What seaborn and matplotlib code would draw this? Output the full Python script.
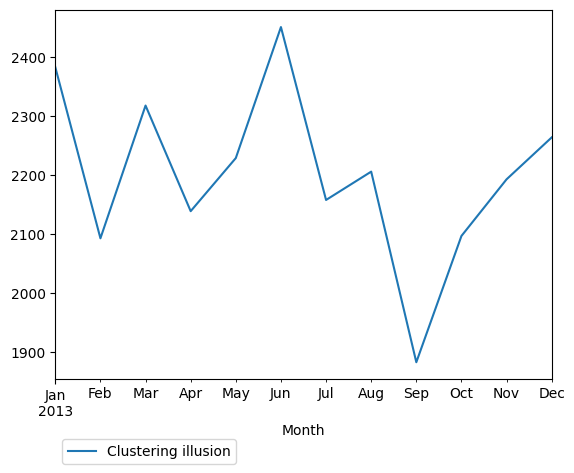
import matplotlib
matplotlib.use("Agg")
import matplotlib.pyplot as plt
import seaborn as sns
import pandas as pd
from matplotlib.ticker import FixedLocator, FixedFormatter

months = ["Jan", "Feb", "Mar", "Apr", "May", "Jun", "Jul", "Aug", "Sep", "Oct", "Nov", "Dec"]
year = "2013"
values = [2383, 2093, 2318, 2139, 2229, 2451, 2158, 2206, 1883, 2097, 2193, 2264]
series_name = "Clustering illusion"

df = pd.DataFrame({"Month": list(range(len(months))), "value": values, "series": series_name})

fig = plt.figure(figsize=(5.74, 4.73), dpi=100)
ax = fig.add_axes([55.3 / 574, (473 - 379) / 473, 496.4 / 574, 368.7 / 473])

sns.lineplot(data=df, x="Month", y="value", hue="series", palette=["#1f77b4"],
             linewidth=1.5, ax=ax, legend=True)

ax.set_xlim(0, len(months) - 1)
ax.margins(y=0.05)
ax.set_ylabel("")
ax.set_xlabel("Month")

ax.xaxis.set_major_locator(FixedLocator([0]))
ax.xaxis.set_major_formatter(FixedFormatter([f"{months[0]}\n{year}"]))
ax.xaxis.set_minor_locator(FixedLocator(list(range(1, len(months)))))
ax.xaxis.set_minor_formatter(FixedFormatter(months[1:]))
ax.tick_params(axis="x", which="minor", labelsize=10)

ax.legend(loc="upper left", bbox_to_anchor=(0, -0.144), borderaxespad=0.5)

fig.savefig("out.png", dpi=100)
